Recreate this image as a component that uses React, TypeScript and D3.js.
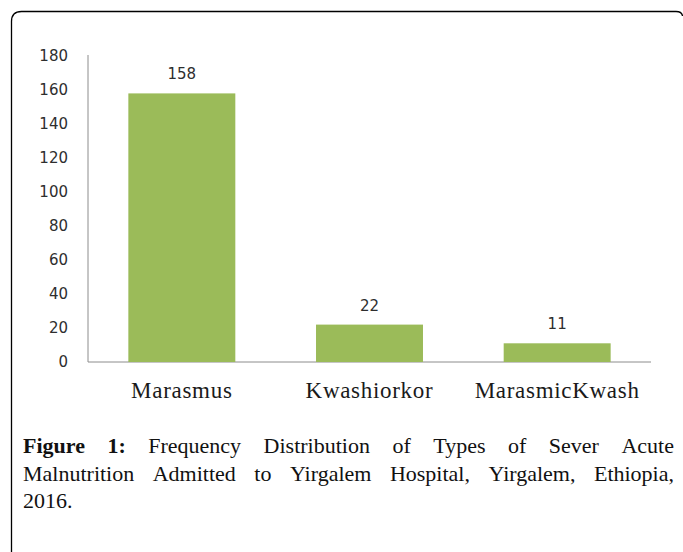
import React from "react";
import * as d3 from "d3";

const categories = ["Marasmus", "Kwashiorkor", "MarasmicKwash"];
const values = [158, 22, 11];
const yTicks = [0, 20, 40, 60, 80, 100, 120, 140, 160, 180];
const captionBold = "Figure 1:";
const captionLines = [
  "Figure 1: Frequency Distribution of Types of Sever Acute",
  "Malnutrition Admitted to Yirgalem Hospital, Yirgalem, Ethiopia,",
  "2016.",
];

const W = 683;
const H = 552;
const capFont = "Liberation Serif, Times New Roman, serif";
const capSize = 22;

function measure(text: string, bold: boolean) {
  const c = document.createElement("canvas");
  const ctx = c.getContext("2d")!;
  ctx.font = `${bold ? "bold " : ""}${capSize}px "Liberation Serif"`;
  return ctx.measureText(text).width;
}

export default function App() {
  const x = d3.scaleBand<string>().domain(categories).range([88, 651]).paddingInner(0.43).paddingOuter(0.215);
  const y = d3.scaleLinear().domain([0, 180]).range([362, 56]);

  const capLeft = 23;
  const capRight = 674;
  const baselines = [453, 481, 508];
  const boldWords = captionBold.split(" ");

  return (
    <svg width={W} height={H} style={{ position: "absolute", left: 0, top: 0 }}>
      <rect x={0} y={0} width={W} height={H} fill="#fff" />
      <path d={`M11.5,${H} L11.5,21.5 Q11.5,11.5 21.5,11.5 L676,11.5 Q682,11.5 682.5,16`} fill="none" stroke="#000" strokeWidth={1.3} />
      {/* axes */}
      <line x1={88} x2={88} y1={55} y2={362} stroke="#8c8c8c" strokeWidth={1} />
      <line x1={88} x2={651} y1={362} y2={362} stroke="#8c8c8c" strokeWidth={1} />
      {yTicks.map((t) => (
        <text key={t} x={68} y={y(t)} dy="0.36em" textAnchor="end" fontFamily="DejaVu Sans, Verdana, sans-serif" fontSize={15} fill="#2e2e2e">
          {t}
        </text>
      ))}
      {categories.map((c, i) => (
        <g key={c}>
          <rect x={x(c)} y={y(values[i])} width={x.bandwidth()} height={y(0) - y(values[i])} fill="#9BBB59" />
          <text x={(x(c) as number) + x.bandwidth() / 2} y={y(values[i]) - 14} textAnchor="middle" fontFamily="DejaVu Sans, Verdana, sans-serif" fontSize={15} fill="#2e2e2e">
            {values[i]}
          </text>
          <text x={(x(c) as number) + x.bandwidth() / 2} y={398} textAnchor="middle" fontFamily={capFont} fontSize={23} letterSpacing={0.7} fill="#1a1a1a">
            {c}
          </text>
        </g>
      ))}
      {captionLines.map((line, li) => {
        const words = line.split(" ");
        const isLast = li === captionLines.length - 1;
        const widths = words.map((w, wi) => measure(w, li === 0 && wi < boldWords.length));
        const total = widths.reduce((a, b) => a + b, 0);
        const spaceW = measure(" ", false);
        const gap = isLast || words.length < 2 ? spaceW : (capRight - capLeft - total) / (words.length - 1);
        let cx = capLeft;
        return (
          <text key={li} y={baselines[li]} fontFamily={capFont} fontSize={capSize} fill="#111">
            {words.map((w, wi) => {
              const px = cx;
              cx += widths[wi] + gap;
              const bold = li === 0 && wi < boldWords.length;
              return (
                <tspan key={wi} x={px} fontWeight={bold ? "bold" : "normal"}>
                  {w}
                </tspan>
              );
            })}
          </text>
        );
      })}
    </svg>
  );
}
